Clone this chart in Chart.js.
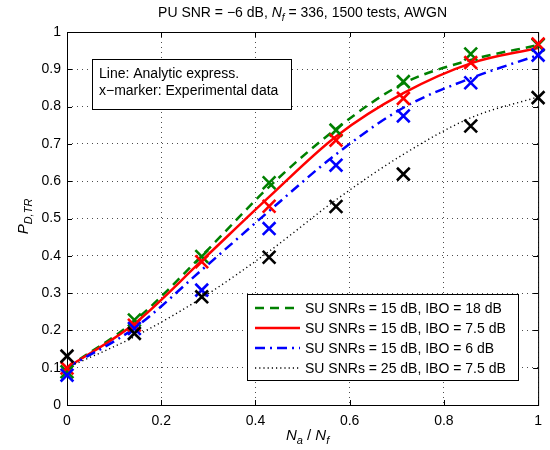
<!DOCTYPE html>
<html>
<head>
<meta charset="utf-8">
<script src="https://cdn.jsdelivr.net/npm/chart.js@4"></script>
<style>
    body { margin: 0; background: #fff; }
    #wrap { width: 550px; height: 450px; }
</style>
</head>
<body>
<div id="wrap"><canvas id="pdChart" width="550" height="450"></canvas></div>
<script>
// Na/Nf positions
const naRatio = [0, 0.143, 0.286, 0.429, 0.571, 0.714, 0.857, 1];

// Analytic expressions (lines)
const analyticIbo18 = [0.10, 0.225, 0.400, 0.585, 0.740, 0.862, 0.925, 0.965];
const analyticIbo75 = [0.10, 0.218, 0.387, 0.558, 0.720, 0.836, 0.916, 0.957];
const analyticIbo6 = [0.10, 0.206, 0.362, 0.520, 0.672, 0.797, 0.876, 0.938];
const analyticSnr25 = [0.10, 0.183, 0.287, 0.412, 0.550, 0.672, 0.770, 0.826];

// Experimental data (x markers)
const expIbo18 = [0.089, 0.228, 0.398, 0.596, 0.737, 0.867, 0.941, 0.965];
const expIbo75 = [0.099, 0.214, 0.384, 0.533, 0.710, 0.822, 0.918, 0.968];
const expIbo6 = [0.080, 0.205, 0.308, 0.473, 0.643, 0.775, 0.864, 0.938];
const expSnr25 = [0.131, 0.192, 0.290, 0.396, 0.532, 0.619, 0.748, 0.824];

const legendLabels = [
    'SU SNRs = 15 dB, IBO = 18 dB',
    'SU SNRs = 15 dB, IBO = 7.5 dB',
    'SU SNRs = 15 dB, IBO = 6 dB',
    'SU SNRs = 25 dB, IBO = 7.5 dB'
];
const xTicks = [0, 0.2, 0.4, 0.6, 0.8, 1];
const yTicks = [0, 0.1, 0.2, 0.3, 0.4, 0.5, 0.6, 0.7, 0.8, 0.9, 1];

const FONT = '"Liberation Sans", Arial, sans-serif';

function toPoints(values) {
    return values.map((v, i) => ({ x: naRatio[i], y: v }));
}

// higher order is drawn first, so later series sit on top (like MATLAB)
function lineSet(label, values, color, dash, width, order) {
    return {
        label: label,
        data: toPoints(values),
        borderColor: color,
        borderWidth: width,
        borderDash: dash,
        pointRadius: 0,
        fill: false,
        cubicInterpolationMode: 'monotone',
        order: 10 + order
    };
}

function markerSet(values, color, order) {
    return {
        label: '',
        data: toPoints(values),
        showLine: false,
        pointStyle: 'crossRot',
        pointRadius: 9,
        pointBorderWidth: 2.6,
        borderColor: color,
        backgroundColor: color,
        clip: false,
        order: order
    };
}

// Draws the axes box with inward ticks (MATLAB look)
const frameBox = {
    id: 'frameBox',
    beforeDatasetsDraw(chart) {
        const { ctx, chartArea: a, scales } = chart;
        ctx.save();
        ctx.strokeStyle = '#000';
        ctx.lineWidth = 1;
        ctx.strokeRect(a.left + 0.5, a.top + 0.5, a.right - a.left, a.bottom - a.top);
        ctx.beginPath();
        xTicks.forEach(v => {
            const px = Math.round(scales.x.getPixelForValue(v)) + 0.5;
            ctx.moveTo(px, a.bottom); ctx.lineTo(px, a.bottom - 5);
            ctx.moveTo(px, a.top); ctx.lineTo(px, a.top + 5);
        });
        yTicks.forEach(v => {
            const py = Math.round(scales.y.getPixelForValue(v)) + 0.5;
            ctx.moveTo(a.left, py); ctx.lineTo(a.left + 5, py);
            ctx.moveTo(a.right, py); ctx.lineTo(a.right - 5, py);
        });
        ctx.stroke();
        ctx.restore();
    }
};

// Title, axis labels (with subscripts), note box and legend
const annotations = {
    id: 'annotations',
    afterDraw(chart) {
        const { ctx, chartArea: a } = chart;
        ctx.save();
        ctx.fillStyle = '#000';
        ctx.textBaseline = 'alphabetic';

        // title
        const parts = [
            { t: 'PU SNR = \u22126 dB, ', f: '14px ' + FONT, dy: 0 },
            { t: 'N', f: 'italic 14px ' + FONT, dy: 0 },
            { t: 'f', f: 'italic 10px ' + FONT, dy: 4 },
            { t: ' = 336, 1500 tests, AWGN', f: '14px ' + FONT, dy: 0 }
        ];
        drawParts(ctx, parts, (a.left + a.right) / 2, 17);

        // x label
        const xl = [
            { t: 'N', f: 'italic 15px ' + FONT, dy: 0 },
            { t: 'a', f: 'italic 11px ' + FONT, dy: 4 },
            { t: ' / ', f: '15px ' + FONT, dy: 0 },
            { t: 'N', f: 'italic 15px ' + FONT, dy: 0 },
            { t: 'f', f: 'italic 11px ' + FONT, dy: 4 }
        ];
        drawParts(ctx, xl, (a.left + a.right) / 2 + 5, 440);

        // y label
        ctx.save();
        ctx.translate(28, (a.top + a.bottom) / 2 - 2);
        ctx.rotate(-Math.PI / 2);
        const yl = [
            { t: 'P', f: 'italic 15px ' + FONT, dy: 0 },
            { t: 'D,TR', f: 'italic 11px ' + FONT, dy: 4 }
        ];
        drawParts(ctx, yl, 0, 0);
        ctx.restore();

        // note box
        ctx.fillStyle = '#fff';
        ctx.fillRect(92, 59, 199, 50);
        ctx.strokeStyle = '#000';
        ctx.lineWidth = 1;
        ctx.strokeRect(92.5, 59.5, 199, 50);
        ctx.fillStyle = '#000';
        ctx.font = '14px ' + FONT;
        ctx.textAlign = 'left';
        ctx.textBaseline = 'middle';
        ctx.fillText('Line: Analytic express.', 99, 74);
        ctx.fillText('x\u2212marker: Experimental data', 99, 91);

        // legend
        ctx.fillStyle = '#fff';
        ctx.fillRect(247, 294, 271, 86);
        ctx.strokeRect(247.5, 294.5, 271, 86);
        for (let i = 0; i < 4; i++) {
            const ds = chart.data.datasets[i];
            const y = 308 + i * 20;
            ctx.save();
            ctx.strokeStyle = ds.borderColor;
            ctx.lineWidth = ds.borderWidth;
            ctx.setLineDash(ds.borderDash || []);
            ctx.beginPath();
            ctx.moveTo(255, y);
            ctx.lineTo(300, y);
            ctx.stroke();
            ctx.restore();
            ctx.fillStyle = '#000';
            ctx.fillText(ds.label, 305, y + 1);
        }
        ctx.restore();
    }
};

function drawParts(ctx, parts, cx, y) {
    let total = 0;
    parts.forEach(p => { ctx.font = p.f; p.w = ctx.measureText(p.t).width; total += p.w; });
    let x = cx - total / 2;
    ctx.textAlign = 'left';
    parts.forEach(p => {
        ctx.font = p.f;
        ctx.fillText(p.t, x, y + p.dy);
        x += p.w;
    });
}

const gridOpts = {
    color: 'rgba(0,0,0,0.7)',
    lineWidth: 1,
    drawTicks: false
};

new Chart(document.getElementById('pdChart'), {
    type: 'line',
    data: {
        datasets: [
            lineSet(legendLabels[0], analyticIbo18, '#008000', [9, 6], 2.5, 4),
            lineSet(legendLabels[1], analyticIbo75, '#ff0000', [], 2.5, 3),
            lineSet(legendLabels[2], analyticIbo6, '#0000ff', [10, 5, 2, 5], 2.5, 2),
            lineSet(legendLabels[3], analyticSnr25, '#000000', [1.2, 3], 1.4, 1),
            markerSet(expIbo18, '#008000', 4),
            markerSet(expIbo75, '#ff0000', 3),
            markerSet(expIbo6, '#0000ff', 2),
            markerSet(expSnr25, '#000000', 1)
        ]
    },
    options: {
        responsive: false,
        animation: false,
        layout: { padding: { left: 0, top: 32, right: 8, bottom: 0 } },
        plugins: {
            legend: { display: false },
            title: { display: false },
            tooltip: { enabled: false }
        },
        scales: {
            x: {
                type: 'linear',
                min: 0,
                max: 1,
                grid: gridOpts,
                border: { display: false, dash: [1, 4] },
                afterFit: s => { s.height = 45; },
                afterBuildTicks: s => { s.ticks = xTicks.map(v => ({ value: v })); },
                ticks: {
                    padding: 8,
                    color: '#000',
                    font: { family: FONT, size: 14 },
                    maxRotation: 0,
                    callback: v => String(v)
                }
            },
            y: {
                type: 'linear',
                min: 0,
                max: 1,
                grid: gridOpts,
                border: { display: false, dash: [1, 4] },
                afterFit: s => { s.width = 67; },
                afterBuildTicks: s => { s.ticks = yTicks.map(v => ({ value: v })); },
                ticks: {
                    padding: 6,
                    color: '#000',
                    font: { family: FONT, size: 14 },
                    callback: v => String(v)
                }
            }
        }
    },
    plugins: [frameBox, annotations]
});
</script>
</body>
</html>
